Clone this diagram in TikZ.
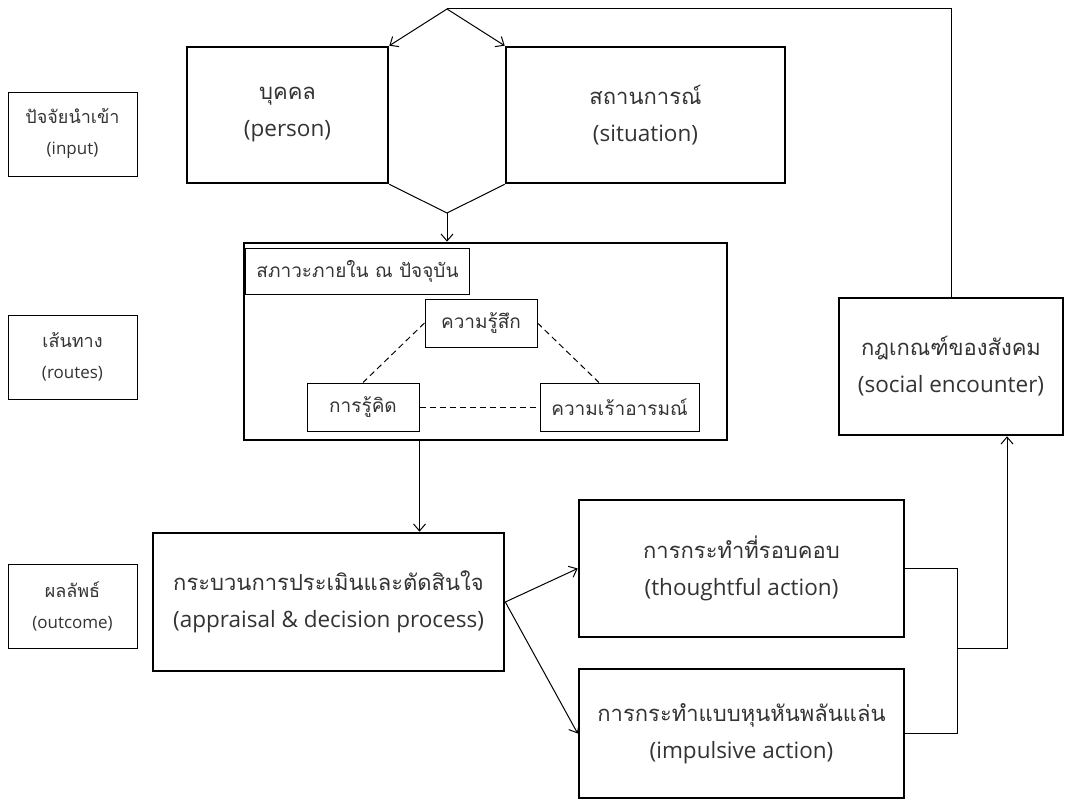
\documentclass[tikz,border=0pt]{standalone}
\usepackage{fontspec}
\setmainfont{Open Sans}
\newfontfamily\thai[Script=Thai]{Loma}
\newcommand\thbig[1]{{\thai\fontsize{22}{37}\selectfont #1}}
\newcommand\thtag[1]{{\thai\fontsize{18}{31}\selectfont #1}}
\usepackage{tikz}
\usetikzlibrary{arrows.meta}

\tikzset{
  bigbox/.style={draw, line width=2.6pt, inner sep=0pt, align=center,
    font=\fontsize{22.5}{37}\selectfont},
  tagbox/.style={draw, line width=1pt, inner sep=0pt, align=center,
    minimum width=129pt, minimum height=84pt, font=\fontsize{17}{31}\selectfont},
  subbox/.style={draw, line width=1pt, inner sep=0pt, align=center,
    minimum height=48pt, font=\fontsize{19}{31}\selectfont\thai},
  link/.style={line width=1pt},
  arr/.style={link, -{Straight Barb[length=7pt,width=12pt]}},
  tie/.style={link, dash pattern=on 6pt off 4pt},
}

\begin{document}
\begin{tikzpicture}[x=1pt,y=-1pt,text=black!80]
  \useasboundingbox (0,0) rectangle (1065,800);
  % labels on the left
  \node[tagbox] (input) at (72.5,134) {\thtag{ปัจจัยนำเข้า}\\(input)};
  \node[tagbox] (routes) at (72.5,357) {\thtag{เส้นทาง}\\(routes)};
  \node[tagbox] (outcome) at (72.5,606) {\thtag{ผลลัพธ์}\\(outcome)};
  % input boxes
  \node[bigbox, minimum width=201pt, minimum height=136pt] (person) at (287.5,115) {\thbig{บุคคล}\\(person)};
  \node[bigbox, minimum width=279pt, minimum height=136pt] (situation) at (645.5,115) {\thbig{สถานการณ์}\\(situation)};
  \coordinate (top) at (447,9);
  \coordinate (bot) at (447,213);
  % inner state
  \node[bigbox, minimum width=483pt, minimum height=197pt] (inner) at (485.5,341.5) {};
  \node[subbox, minimum width=224pt, minimum height=46pt, anchor=north west] (state) at (245,248) {สภาวะภายใน ณ ปัจจุบัน};
  \node[subbox, minimum width=112pt] (feeling) at (481,323) {ความรู้สึก};
  \node[subbox, minimum width=112pt] (cognition) at (363,407) {การรู้คิด};
  \node[subbox, minimum width=159pt] (arousal) at (619.5,407) {ความเร้าอารมณ์};
  % outcome
  \node[bigbox, minimum width=351pt, minimum height=138pt] (appraisal) at (328.5,602) {\thbig{กระบวนการประเมินและตัดสินใจ}\\(appraisal \& decision process)};
  \node[bigbox, minimum width=325pt, minimum height=137pt] (thoughtful) at (741.5,568.5) {\thbig{การกระทำที่รอบคอบ}\\(thoughtful action)};
  \node[bigbox, minimum width=325pt, minimum height=129pt] (impulsive) at (741.5,733.5) {\thbig{การกระทำแบบหุนหันพลันแล่น}\\(impulsive action)};
  \node[bigbox, minimum width=224pt, minimum height=137pt] (social) at (951,366.5) {\thbig{กฎเกณฑ์ของสังคม}\\(social encounter)};
  \coordinate (merge) at (957,648);
  \coordinate (rise) at (1007,648);

  \draw[arr] (top) -- (person.north east);
  \draw[arr] (top) -- (situation.north west);
  \draw[link] (person.south east) -- (bot) -- (situation.south west);
  \draw[arr] (bot) -- (bot |- inner.north);
  \draw[tie] (feeling.west) -- (cognition.north);
  \draw[tie] (feeling.east) -- (arousal.130);
  \draw[tie] (cognition.east) -- (arousal.west);
  \draw[arr] (cognition.east |- inner.south) -- (cognition.east |- appraisal.north);
  \draw[arr] (appraisal.east) -- (thoughtful.west);
  \draw[arr] (appraisal.east) -- (impulsive.west);
  \draw[link] (thoughtful.east) -| (merge) |- (impulsive.east);
  \draw[arr] (merge) -- (rise) -- (rise |- social.south);
  \draw[link] (social.north) |- (top);
\end{tikzpicture}
\end{document}
